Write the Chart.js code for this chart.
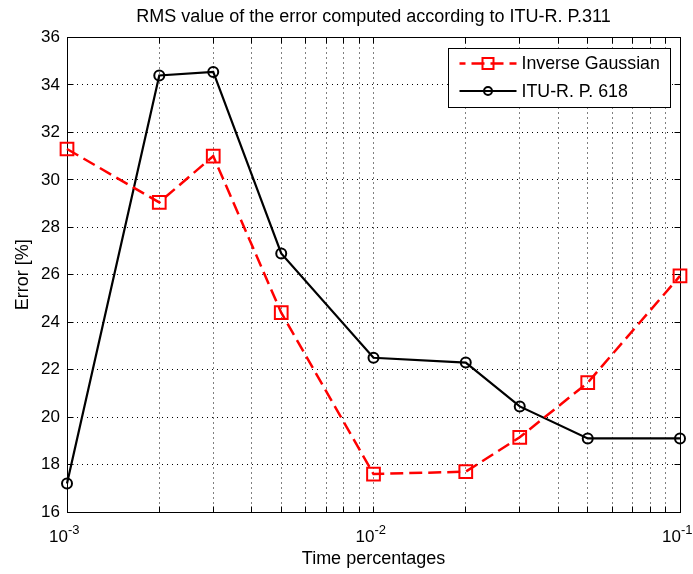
<!DOCTYPE html>
<html>
<head>
<meta charset="utf-8">
<title>RMS error vs time percentage</title>
<script src="https://cdn.jsdelivr.net/npm/chart.js@4/dist/chart.umd.min.js"></script>
<style>
  html, body { margin: 0; padding: 0; background: #fff; }
  #wrap { width: 693px; height: 574px; }
</style>
</head>
<body>
<div id="wrap"><canvas id="c" width="693" height="574"></canvas></div>
<script>
// Time percentages (x) and RMS error values (%) for the two prediction methods
const timePct = [0.001, 0.002, 0.003, 0.005, 0.01, 0.02, 0.03, 0.05, 0.1];
const inverseGaussian = [31.3, 29.05, 31.0, 24.4, 17.6, 17.7, 19.15, 21.45, 25.95];
const ituP618 = [17.2, 34.4, 34.55, 26.9, 22.5, 22.3, 20.45, 19.1, 19.1];
const seriesNames = ['Inverse Gaussian', 'ITU-R. P. 618'];

// Axis ticks
const xMajorExponents = [-3, -2, -1];
const xMinorMultipliers = [2, 3, 4, 5, 6, 7, 8, 9];
const yTicks = [16, 18, 20, 22, 24, 26, 28, 30, 32, 34, 36];

const FONT = "'Liberation Sans', Arial, Helvetica, sans-serif";

// Every log-grid position: 1..9 x 10^e for each decade, plus the last decade start
const xTickValues = [];
xMajorExponents.forEach((e, i) => {
  const base = Math.pow(10, e);
  xTickValues.push(base);
  if (i < xMajorExponents.length - 1) {
    xMinorMultipliers.forEach(m => xTickValues.push(+(m * base).toPrecision(6)));
  }
});

const toPoints = ys => timePct.map((t, i) => ({ x: t, y: ys[i] }));

function alignPx(p) { return Math.round(p - 0.5) + 0.5; }

// Marker drawing shared by the legend
function drawMarker(ctx, style, cx, cy, size) {
  ctx.beginPath();
  if (style === 'rect') {
    ctx.rect(cx - size / 2, cy - size / 2, size, size);
  } else {
    ctx.arc(cx, cy, size / 2, 0, Math.PI * 2);
  }
  ctx.stroke();
}

// Box around the plot, inward tick marks, x labels with exponents, boxed legend
const axesDecor = {
  id: 'axesDecor',
  beforeDatasetsDraw(chart) {
    const { ctx, chartArea: a, scales: { x, y } } = chart;
    const L = alignPx(a.left), R = alignPx(a.right), T = alignPx(a.top), B = alignPx(a.bottom);
    ctx.save();
    ctx.setLineDash([]);
    ctx.strokeStyle = '#000';
    ctx.lineWidth = 1;
    ctx.beginPath();
    xTickValues.forEach(v => {
      const px = alignPx(x.getPixelForValue(v));
      ctx.moveTo(px, B); ctx.lineTo(px, B - 6);
      ctx.moveTo(px, T); ctx.lineTo(px, T + 6);
    });
    yTicks.forEach(v => {
      const py = alignPx(y.getPixelForValue(v));
      ctx.moveTo(L, py); ctx.lineTo(L + 6, py);
      ctx.moveTo(R, py); ctx.lineTo(R - 6, py);
    });
    ctx.stroke();
    ctx.strokeRect(L, T, R - L, B - T);
    ctx.restore();
  },
  afterDraw(chart) {
    const { ctx, chartArea: a, scales: { x } } = chart;
    ctx.save();
    ctx.fillStyle = '#000';
    ctx.textBaseline = 'alphabetic';
    xMajorExponents.forEach(e => {
      const px = x.getPixelForValue(Math.pow(10, e));
      ctx.font = '17px ' + FONT;
      ctx.textAlign = 'right';
      ctx.fillText('10', px + 1, a.bottom + 30);
      ctx.font = '13px ' + FONT;
      ctx.textAlign = 'left';
      ctx.fillText(String(e), px + 1, a.bottom + 22);
    });

    // Legend
    const bx = alignPx(a.right - 232), by = alignPx(a.top + 11), bw = 222, bh = 59;
    ctx.fillStyle = '#fff';
    ctx.fillRect(bx, by, bw, bh);
    ctx.strokeStyle = '#000';
    ctx.lineWidth = 1;
    ctx.setLineDash([]);
    ctx.strokeRect(bx, by, bw, bh);
    chart.data.datasets.forEach((ds, i) => {
      const ly = by + 15 + i * 27.5;
      const x0 = bx + 11, x1 = bx + 68, mx = bx + 39.5;
      ctx.strokeStyle = ds.borderColor;
      ctx.lineWidth = ds.borderWidth;
      ctx.setLineDash(ds.borderDash || []);
      ctx.lineDashOffset = ds.borderDash ? 7 : 0;
      ctx.beginPath();
      ctx.moveTo(x0, ly); ctx.lineTo(x1, ly);
      ctx.stroke();
      ctx.setLineDash([]);
      ctx.lineWidth = ds.pointBorderWidth;
      ctx.fillStyle = '#fff';
      const size = ds.pointStyle === 'rect' ? 11 : 8;
      drawMarker(ctx, ds.pointStyle, mx, ly, size);
      ctx.fillStyle = '#000';
      ctx.font = '17.8px ' + FONT;
      ctx.textAlign = 'left';
      ctx.textBaseline = 'middle';
      ctx.fillText(ds.label, bx + 73, ly + 1);
    });
    ctx.restore();
  }
};

new Chart(document.getElementById('c'), {
  type: 'line',
  data: {
    datasets: [
      {
        label: seriesNames[0],
        data: toPoints(inverseGaussian),
        borderColor: '#ff0000',
        borderWidth: 2.5,
        borderDash: [13, 6],
        pointStyle: 'rect',
        pointRadius: 9,
        pointBorderWidth: 2,
        pointBorderColor: '#ff0000',
        pointBackgroundColor: 'rgba(0,0,0,0)',
        tension: 0,
        clip: false
      },
      {
        label: seriesNames[1],
        data: toPoints(ituP618),
        borderColor: '#000000',
        borderWidth: 2.2,
        pointStyle: 'circle',
        pointRadius: 5,
        pointBorderWidth: 2,
        pointBorderColor: '#000000',
        pointBackgroundColor: 'rgba(0,0,0,0)',
        tension: 0,
        clip: false
      }
    ]
  },
  options: {
    responsive: false,
    animation: false,
    devicePixelRatio: 1,
    layout: { padding: { left: 0, right: 13, top: 0, bottom: 0 } },
    plugins: {
      legend: { display: false },
      tooltip: { enabled: false },
      title: {
        display: true,
        fullSize: false,
        text: 'RMS value of the error computed according to ITU-R. P.311',
        color: '#000',
        font: { family: FONT, size: 18, weight: 'normal' },
        padding: { top: 6.7, bottom: 9.2 }
      }
    },
    scales: {
      x: {
        type: 'logarithmic',
        min: 0.001,
        max: 0.1,
        afterBuildTicks(scale) {
          scale.ticks = xTickValues.map(v => ({ value: v }));
        },
        afterFit(scale) { scale.height = 62; },
        ticks: { display: false, autoSkip: false },
        grid: {
          color: '#000',
          lineWidth: 1,
          drawTicks: false,
          borderDash: [1, 4]
        },
        border: { display: false, dash: [1, 4] },
        title: {
          display: true,
          text: 'Time percentages',
          color: '#000',
          font: { family: FONT, size: 18 },
          padding: { top: 0, bottom: 4 }
        }
      },
      y: {
        type: 'linear',
        min: 16,
        max: 36,
        afterBuildTicks(scale) {
          scale.ticks = yTicks.map(v => ({ value: v }));
        },
        afterFit(scale) { scale.width = 67; },
        ticks: {
          color: '#000',
          font: { family: FONT, size: 17 },
          padding: 7,
          autoSkip: false,
          callback: v => String(v)
        },
        grid: {
          color: '#000',
          lineWidth: 1,
          drawTicks: false,
          borderDash: [1, 4]
        },
        border: { display: false, dash: [1, 4] },
        title: {
          display: true,
          text: 'Error [%]',
          color: '#000',
          font: { family: FONT, size: 18 },
          padding: { top: 12.5, bottom: 0 }
        }
      }
    }
  },
  plugins: [axesDecor]
});
</script>
</body>
</html>
